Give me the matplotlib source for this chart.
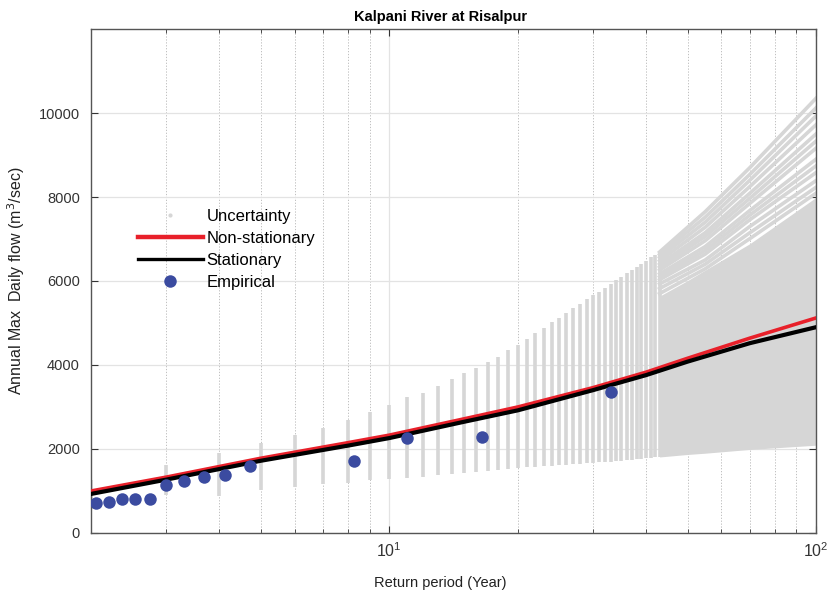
import numpy as np
import matplotlib
matplotlib.use("Agg")
import matplotlib.pyplot as plt
from matplotlib.lines import Line2D
from matplotlib.ticker import LogLocator, NullFormatter

plt.rcParams["font.family"] = ["Liberation Sans", "DejaVu Sans"]

# bootstrap uncertainty: vertical spread at each integer return period
unc_T = list(range(2, 44))
unc_low = [560, 900, 870, 1020, 1090, 1170, 1200, 1260, 1290, 1320, 1340, 1380, 1400,
           1425, 1450, 1470, 1500, 1530, 1550,
           1560, 1575, 1590, 1600, 1610, 1625, 1635, 1645, 1660, 1670, 1680, 1690,
           1700, 1710, 1720, 1730, 1745, 1755, 1765, 1780, 1790, 1800, 1810]
unc_high = [1260, 1620, 1900, 2140, 2330, 2490, 2680, 2870, 3040, 3230, 3330, 3490, 3660,
            3800, 3940, 4060, 4200, 4350, 4480,
            4630, 4770, 4890, 5020, 5130, 5250, 5360, 5460, 5560, 5660, 5750, 5840,
            5930, 6020, 6100, 6180, 6260, 6340, 6410, 6480, 6560, 6620, 6690]

# dense part of the band at long return periods
dense_T = [43, 50, 55, 70, 100]
dense_low = [1810, 1870, 1900, 1990, 2090]
dense_high = [5640, 6010, 6260, 6890, 7990]

# the few bootstrap curves that fan out above the dense band
fan_T = [43, 55, 70, 100]
fan_curves = [
    [6690, 7650, 8700, 10350],
    [6630, 7520, 8540, 10120],
    [6560, 7400, 8400, 9930],
    [6480, 7280, 8250, 9720],
    [6400, 7150, 8090, 9500],
    [6330, 7060, 7970, 9330],
    [6260, 6960, 7850, 9160],
    [6170, 6820, 7680, 8900],
    [6100, 6730, 7570, 8740],
    [6030, 6640, 7460, 8580],
    [5930, 6500, 7300, 8390],
    [5820, 6400, 7150, 8230],
    [5700, 6290, 7010, 8090],
]

# fitted quantile curves
fit_T = [2, 3, 5, 8, 10, 15, 20, 30, 40, 50, 70, 100]
nonstat_Q = [1000, 1330, 1780, 2150, 2330, 2720, 3000, 3460, 3830, 4160, 4640, 5120]
stat_Q = [930, 1270, 1720, 2080, 2260, 2650, 2920, 3400, 3760, 4080, 4520, 4900]

# empirical plotting positions
emp_T = [2.06, 2.2, 2.36, 2.54, 2.75, 3.0, 3.3, 3.67, 4.13, 4.71, 8.25, 11.0, 16.5, 33.0]
emp_Q = [705, 743, 800, 808, 808, 1140, 1242, 1323, 1385, 1591, 1703, 2264, 2280, 3357]

gray = "#d6d6d6"
red = "#e8202a"
blue = "#3b4ba0"

fig = plt.figure(figsize=(8.34, 5.96), dpi=100)
ax = fig.add_axes([91 / 834, 63 / 596, 725 / 834, 504 / 596])
ax.set_xscale("log")

ax.vlines(unc_T, unc_low, unc_high, color=gray, linewidth=2.6, zorder=2)
ax.fill_between(dense_T, dense_low, dense_high, color=gray, linewidth=0, zorder=2)
for q in fan_curves:
    ax.plot(fan_T, q, color=gray, linewidth=2.6, zorder=2)

ax.plot(fit_T, stat_Q, color="black", linewidth=3.0, zorder=4)
ax.plot(fit_T, nonstat_Q, color=red, linewidth=2.6, zorder=3)
ax.plot(emp_T, emp_Q, "o", color=blue, markersize=9, markeredgewidth=0, zorder=5)

ax.set_xlim(2, 100)
ax.set_ylim(0, 12000)
ax.set_yticks(range(0, 12000, 2000))
ax.xaxis.set_major_locator(LogLocator(base=10))
ax.xaxis.set_minor_locator(LogLocator(base=10, subs=np.arange(2, 10)))
ax.xaxis.set_minor_formatter(NullFormatter())

ax.set_axisbelow(True)
ax.grid(True, which="major", axis="both", color="#e3e3e3", linewidth=0.9, linestyle="-")
ax.grid(True, which="minor", axis="x", color="#b5b5b5", linewidth=0.6, linestyle=(0, (1.5, 2)))

for s in ax.spines.values():
    s.set_color("#555555")
    s.set_linewidth(1.0)
ax.tick_params(which="both", direction="in", top=True, right=True, colors="#333333",
               labelsize=10.5, pad=8)
ax.tick_params(which="major", length=5)
ax.tick_params(which="minor", length=3)
ax.tick_params(axis="x", labelsize=11.5, pad=6)

ax.set_title("Kalpani River at Risalpur", fontsize=10.5, fontweight="bold", pad=6, x=0.482)
ax.set_xlabel("Return period (Year)", fontsize=10.5, color="#222222", labelpad=10)
ax.xaxis.set_label_coords(0.482, -0.085)
ax.set_ylabel("Annual Max  Daily flow (m$^3$/sec)", fontsize=11.5, color="#222222")
ax.yaxis.set_label_coords(-0.088, 0.5)

handles = [
    Line2D([], [], marker=".", color=gray, linestyle="none", markersize=4),
    Line2D([], [], color=red, linewidth=3.2),
    Line2D([], [], color="black", linewidth=2.4),
    Line2D([], [], marker="o", color=blue, linestyle="none", markersize=9, markeredgewidth=0),
]
labels = ["Uncertainty", "Non-stationary", "Stationary", "Empirical"]
ax.legend(handles, labels, loc="upper left", bbox_to_anchor=(0.055, 0.657), frameon=False,
          fontsize=12, handlelength=3.9, handletextpad=0.25, labelspacing=0.42,
          borderaxespad=0)

fig.savefig("out.png", dpi=100)
